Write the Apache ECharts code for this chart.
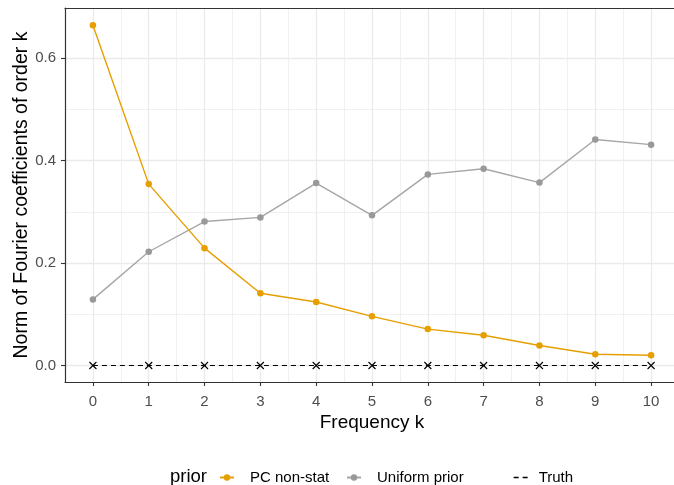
<!DOCTYPE html>
<html>
<head>
<meta charset="utf-8">
<script src="https://cdn.jsdelivr.net/npm/echarts@6/dist/echarts.min.js"></script>
<style>
html,body{margin:0;padding:0;background:#fff;}
#chart{width:674px;height:485px;}
</style>
</head>
<body>
<div id="chart"></div>
<script>
const frequencies = [0, 1, 2, 3, 4, 5, 6, 7, 8, 9, 10];
const pcNonStat = [0.664, 0.354, 0.229, 0.141, 0.124, 0.096, 0.071, 0.059, 0.039, 0.022, 0.020];
const uniformPrior = [0.129, 0.222, 0.281, 0.289, 0.356, 0.293, 0.373, 0.384, 0.357, 0.441, 0.431];
const truth = [0, 0, 0, 0, 0, 0, 0, 0, 0, 0, 0];
const xTicks = [0, 1, 2, 3, 4, 5, 6, 7, 8, 9, 10];
const xMinor = [0.5, 1.5, 2.5, 3.5, 4.5, 5.5, 6.5, 7.5, 8.5, 9.5];
const yTicks = [0, 0.2, 0.4, 0.6];
const yMinor = [0.1, 0.3, 0.5];

const FONT = 'Liberation Sans, Arial, Helvetica, sans-serif';
const pairs = arr => frequencies.map((k, i) => [k, arr[i]]);

const chart = echarts.init(document.getElementById('chart'), null, {renderer: 'canvas'});
const xRange = {min: -0.5, max: 10.5};
const yRange = {min: -0.0322, max: 0.6977};
const border = {show: true, onZero: false, lineStyle: {color: '#333333', width: 1.2}};

const option = {
  backgroundColor: '#ffffff',
  animation: false,
  textStyle: {fontFamily: FONT},
  grid: {left: 65, top: 8, width: 614, height: 374, show: false, containLabel: false, outerBoundsMode: 'none'},
  xAxis: [
    {
      type: 'value', ...xRange, position: 'bottom',
      name: 'Frequency k', nameLocation: 'middle', nameGap: 31, nameMoveOverlap: false,
      nameTextStyle: {fontSize: 19, color: '#000', fontFamily: FONT},
      axisLine: border,
      axisTick: {show: true, length: 4, customValues: xTicks, lineStyle: {color: '#333333', width: 1.1}},
      axisLabel: {customValues: xTicks, margin: 12, fontSize: 15, color: '#4d4d4d', fontFamily: FONT},
      splitLine: {show: true, lineStyle: {color: '#ebebeb', width: 1.3}}
    },
    {
      type: 'value', ...xRange, position: 'top',
      axisLine: border, axisLabel: {show: false},
      axisTick: {show: false, customValues: xMinor},
      splitLine: {show: true, lineStyle: {color: '#ebebeb', width: 0.7}}
    }
  ],
  yAxis: [
    {
      type: 'value', ...yRange, position: 'left',
      name: 'Norm of Fourier coefficients of order k', nameLocation: 'middle', nameGap: 33, nameMoveOverlap: false,
      nameTextStyle: {fontSize: 19.5, color: '#000', fontFamily: FONT},
      axisLine: border,
      axisTick: {show: true, length: 4, customValues: yTicks, lineStyle: {color: '#333333', width: 1.1}},
      axisLabel: {customValues: yTicks, margin: 9, fontSize: 15, color: '#4d4d4d', fontFamily: FONT,
        formatter: v => v.toFixed(1)},
      splitLine: {show: true, lineStyle: {color: '#ebebeb', width: 1.3}}
    },
    {
      type: 'value', ...yRange, position: 'left',
      axisLine: {show: false, onZero: false}, axisLabel: {show: false},
      axisTick: {show: false, customValues: yMinor},
      splitLine: {show: true, lineStyle: {color: '#ebebeb', width: 0.7}}
    }
  ],
  legend: [
    {
      data: ['PC non-stat'], left: 219, top: 470, padding: 0, itemWidth: 14, itemHeight: 8,
      textStyle: {fontSize: 15, color: '#000', fontFamily: FONT, padding: [0, 0, 0, 11]}
    },
    {
      data: ['Uniform prior'], left: 346, top: 470, padding: 0, itemWidth: 14, itemHeight: 8,
      textStyle: {fontSize: 15, color: '#000', fontFamily: FONT, padding: [0, 0, 0, 11]}
    },
    {
      data: [{name: 'Truth', itemStyle: {color: 'rgba(0,0,0,0)', borderColor: 'rgba(0,0,0,0)', borderWidth: 0},
              lineStyle: {color: '#000', width: 1.3, type: [5, 4]}}],
      left: 513, top: 470, padding: 0, itemWidth: 14, itemHeight: 8,
      textStyle: {fontSize: 15, color: '#000', fontFamily: FONT, padding: [0, 0, 0, 6]}
    }
  ],
  graphic: [
    {type: 'text', left: 170, top: 467, style: {text: 'prior', fontSize: 18.5, fill: '#000', fontFamily: FONT}}
  ],
  series: [
    {
      name: 'Truth', type: 'line', data: pairs(truth), xAxisIndex: 0, yAxisIndex: 0,
      symbol: 'path://M0,0L10,10M10,0L0,10', symbolSize: 7,
      itemStyle: {color: 'rgba(0,0,0,0)', borderColor: '#000', borderWidth: 1.1},
      lineStyle: {color: '#000', width: 1.2, type: [5, 4]}, z: 3
    },
    {
      name: 'Uniform prior', type: 'line', data: pairs(uniformPrior), xAxisIndex: 0, yAxisIndex: 0,
      symbol: 'circle', symbolSize: 6.5,
      itemStyle: {color: '#999999'}, lineStyle: {color: '#a6a6a6', width: 1.4}, z: 4
    },
    {
      name: 'PC non-stat', type: 'line', data: pairs(pcNonStat), xAxisIndex: 0, yAxisIndex: 0,
      symbol: 'circle', symbolSize: 6.5,
      itemStyle: {color: '#E69F00'}, lineStyle: {color: '#E69F00', width: 1.4}, z: 5
    }
  ]
};
chart.setOption(option);
</script>
</body>
</html>
